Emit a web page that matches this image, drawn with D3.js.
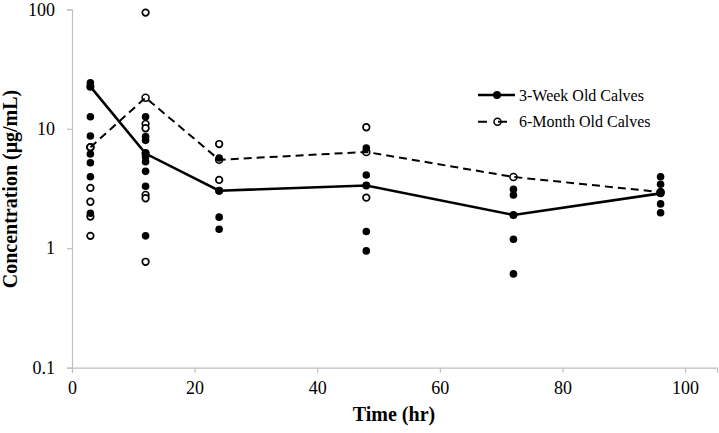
<!DOCTYPE html>
<html><head><meta charset="utf-8">
<script src="https://cdn.jsdelivr.net/npm/d3@7"></script>
<style>
body{margin:0;background:#fff;}
svg text{font-family:'Liberation Serif','Times New Roman',Times,'DejaVu Serif',serif;fill:#000;}
</style></head>
<body><svg id="c" width="719" height="433"></svg>
<script>
const times = [3, 12, 24, 48, 72, 96];
const week3Points = [
  [24.3, 22.8, 12.6, 8.7, 6.15, 5.2, 3.97, 1.96],
  [12.6, 8.6, 8.0, 6.3, 5.8, 5.3, 4.4, 3.3, 1.27],
  [5.7, 3.03, 1.82, 1.44],
  [6.9, 4.1, 1.38, 0.95],
  [3.11, 2.79, 1.19, 0.61],
  [3.97, 3.43, 2.92, 2.35, 1.98]
];
const month6Points = [
  [7.0, 3.2, 2.45, 1.84, 1.27],
  [93.8, 11.0, 10.1, 2.8, 2.62, 0.77],
  [7.45, 3.73],
  [10.3, 2.65],
  [],
  []
];
const week3Mean = [22.5, 6.2, 3.03, 3.35, 1.9, 2.88];
const month6Mean = [7.0, 18.2, 5.5, 6.4, 3.95, 2.95];
const xTicks = [0, 20, 40, 60, 80, 100];
const yTicks = [0.1, 1, 10, 100];
const seriesNames = ["3-Week Old Calves", "6-Month Old Calves"];

const FONT = "'Liberation Serif','Times New Roman',Times,'DejaVu Serif',serif";
const svg = d3.select("#c");
const x = d3.scaleLinear().domain([0, 105.2]).range([72, 717]);
const y = d3.scaleLog().domain([0.1, 100]).range([367.7, 9.3]);

// axes
const gx = svg.append("g").attr("transform", `translate(0,${y(0.1)})`)
  .call(d3.axisBottom(x).tickValues(xTicks).tickSize(5).tickPadding(9).tickFormat(d3.format("d")));
const gy = svg.append("g").attr("transform", `translate(${x(0)},0)`)
  .call(d3.axisLeft(y).tickValues(yTicks).tickSize(5).tickPadding(12).tickFormat(d => String(d)));
[gx, gy].forEach(g => {
  g.attr("font-family", FONT).attr("font-size", 18);
  g.select(".domain").attr("stroke", "#bfbfbf").attr("stroke-width", 1.2);
  g.selectAll(".tick line").attr("stroke", "#bfbfbf").attr("stroke-width", 1.2);
  g.selectAll(".tick text").attr("font-family", FONT).attr("font-size", 18).attr("fill", "#000");
});

// axis titles
svg.append("text").attr("x", 394).attr("y", 421).attr("text-anchor", "middle")
  .attr("font-family", FONT).attr("font-size", 20).attr("font-weight", "bold").text("Time (hr)");
svg.append("text").attr("transform", `translate(17,189) rotate(-90)`).attr("text-anchor", "middle")
  .attr("font-family", FONT).attr("font-size", 20).attr("font-weight", "bold").text("Concentration (μg/mL)");

// individual points
const flat = (arr) => arr.flatMap((vals, i) => vals.map(v => ({t: times[i], v})));
svg.append("g").selectAll("circle").data(flat(month6Points)).join("circle")
  .attr("cx", d => x(d.t)).attr("cy", d => y(d.v)).attr("r", 3.3)
  .attr("fill", "#fff").attr("stroke", "#000").attr("stroke-width", 1.7);
svg.append("g").selectAll("circle").data(flat(week3Points)).join("circle")
  .attr("cx", d => x(d.t)).attr("cy", d => y(d.v)).attr("r", 3.8)
  .attr("fill", "#000");

// mean lines
const line = d3.line().x((d, i) => x(times[i])).y(d => y(d));
svg.append("path").datum(month6Mean).attr("d", line).attr("fill", "none")
  .attr("stroke", "#000").attr("stroke-width", 2).attr("stroke-dasharray", "8,5");
svg.append("path").datum(week3Mean).attr("d", line).attr("fill", "none")
  .attr("stroke", "#000").attr("stroke-width", 2.6);
svg.append("g").selectAll("circle").data(week3Mean).join("circle")
  .attr("cx", (d, i) => x(times[i])).attr("cy", d => y(d)).attr("r", 4).attr("fill", "#000");
svg.append("g").selectAll("circle").data(month6Mean).join("circle")
  .attr("cx", (d, i) => x(times[i])).attr("cy", d => y(d)).attr("r", 3.5)
  .attr("fill", "none").attr("stroke", "#000").attr("stroke-width", 1.5);

// legend
const lg = svg.append("g").attr("font-family", FONT).attr("font-size", 16);
lg.append("line").attr("x1", 478).attr("x2", 515).attr("y1", 95).attr("y2", 95)
  .attr("stroke", "#000").attr("stroke-width", 2.6);
lg.append("circle").attr("cx", 497).attr("cy", 95).attr("r", 4).attr("fill", "#000");
lg.append("text").attr("x", 519).attr("y", 95).attr("dy", "0.35em").text(seriesNames[0]);
lg.append("line").attr("x1", 478).attr("x2", 515).attr("y1", 121.7).attr("y2", 121.7)
  .attr("stroke", "#000").attr("stroke-width", 2).attr("stroke-dasharray", "9,11");
lg.append("circle").attr("cx", 497.5).attr("cy", 121.7).attr("r", 3.5)
  .attr("fill", "none").attr("stroke", "#000").attr("stroke-width", 1.5);
lg.append("text").attr("x", 519).attr("y", 121.7).attr("dy", "0.35em").text(seriesNames[1]);
</script></body></html>
